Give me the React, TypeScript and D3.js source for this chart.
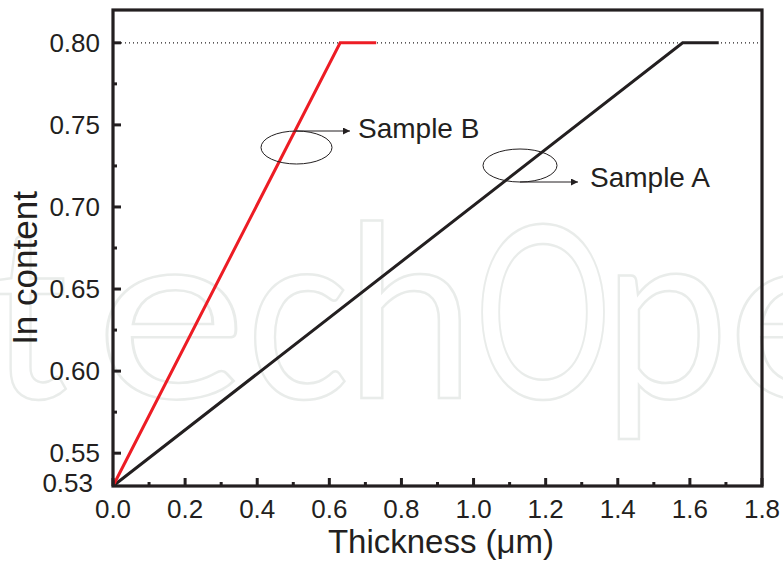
import React from "react";
import * as d3 from "d3";

const sampleA = [
  { x: 0, y: 0.53 },
  { x: 1.58, y: 0.8 },
  { x: 1.68, y: 0.8 },
];
const sampleB = [
  { x: 0, y: 0.53 },
  { x: 0.63, y: 0.8 },
  { x: 0.73, y: 0.8 },
];
const xTicks = [0, 0.2, 0.4, 0.6, 0.8, 1.0, 1.2, 1.4, 1.6, 1.8];
const xMinor = [0.1, 0.3, 0.5, 0.7, 0.9, 1.1, 1.3, 1.5, 1.7];
const yTicks = [0.55, 0.6, 0.65, 0.7, 0.75, 0.8];
const yMinor = [0.575, 0.625, 0.675, 0.725, 0.775];
const refLine = 0.8;
// visible watermark letters: character, left edge, width (px)
const wmLetters: [string, number, number][] = [
  ["t", -12, 80],
  ["e", 95, 152],
  ["c", 246, 104],
  ["h", 345, 130],
  ["O", 474, 138],
  ["p", 603, 126],
  ["e", 727, 140],
];

const W = 783;
const H = 566;
const L = 113, R = 762, T = 10, B = 486;

export default function App() {
  const x = d3.scaleLinear().domain([0, 1.8]).range([L, R]);
  const y = d3.scaleLinear().domain([0.53, 0.82]).range([B, T]);
  const line = d3
    .line<{ x: number; y: number }>()
    .x((d) => x(d.x))
    .y((d) => y(d.y));
  const font = "'Liberation Sans', Arial, sans-serif";
  return (
    <svg
      width={W}
      height={H}
      style={{ position: "absolute", left: 0, top: 0, background: "#fff" }}
    >
      <defs>
        <marker id="arr" viewBox="0 0 10 10" refX="10" refY="5" markerWidth="9" markerHeight="7" orient="auto" markerUnits="userSpaceOnUse">
          <path d="M0,0 L10,5 L0,10 z" fill="#231f20" />
        </marker>
      </defs>
      <g
        fontFamily="Lato, 'Open Sans', sans-serif"
        fontSize={240}
        fill="none"
        stroke="#e9ecea"
        strokeWidth={2.5}
      >
        {wmLetters.map(([ch, lx, w], i) => (
          <text key={"wm" + i} x={lx} y={398} textLength={w} lengthAdjust="spacingAndGlyphs">
            {ch}
          </text>
        ))}
      </g>
      <line
        x1={L}
        x2={R}
        y1={y(refLine)}
        y2={y(refLine)}
        stroke="#231f20"
        strokeWidth={1.2}
        strokeDasharray="1,3"
      />
      <path d={line(sampleA) || ""} fill="none" stroke="#231f20" strokeWidth={3} />
      <path d={line(sampleB) || ""} fill="none" stroke="#ed1c24" strokeWidth={3} />
      {/* annotations */}
      <ellipse cx={296.5} cy={147.5} rx={35.5} ry={16.5} fill="none" stroke="#231f20" strokeWidth={1} />
      <line x1={296} x2={350} y1={131} y2={131} stroke="#231f20" strokeWidth={1} markerEnd="url(#arr)" />
      <text x={358} y={138} fontFamily={font} fontSize={28} fill="#231f20">Sample B</text>
      <ellipse cx={520} cy={165.5} rx={37} ry={16.5} fill="none" stroke="#231f20" strokeWidth={1} />
      <line x1={520} x2={578} y1={182} y2={182} stroke="#231f20" strokeWidth={1} markerEnd="url(#arr)" />
      <text x={590} y={187} fontFamily={font} fontSize={28} fill="#231f20">Sample A</text>
      {/* ticks */}
      {xTicks.map((t) => (
        <line key={"xt" + t} x1={x(t)} x2={x(t)} y1={B} y2={B - 8} stroke="#231f20" strokeWidth={3} />
      ))}
      {xMinor.map((t) => (
        <line key={"xm" + t} x1={x(t)} x2={x(t)} y1={B} y2={B - 4} stroke="#231f20" strokeWidth={3} />
      ))}
      {yTicks.map((t) => (
        <line key={"yt" + t} x1={L} x2={L + 8} y1={y(t)} y2={y(t)} stroke="#231f20" strokeWidth={3} />
      ))}
      {yMinor.map((t) => (
        <line key={"ym" + t} x1={L} x2={L + 4} y1={y(t)} y2={y(t)} stroke="#231f20" strokeWidth={3} />
      ))}
      <rect x={L} y={T} width={R - L} height={B - T} fill="none" stroke="#231f20" strokeWidth={3.2} />
      {xTicks.map((t) => (
        <text key={"xl" + t} x={x(t)} y={518} textAnchor="middle" fontFamily={font} fontSize={26} fill="#231f20">
          {t.toFixed(1)}
        </text>
      ))}
      {yTicks.map((t) => (
        <text key={"yl" + t} x={100} y={y(t) + 9} textAnchor="end" fontFamily={font} fontSize={26} fill="#231f20">
          {t.toFixed(2)}
        </text>
      ))}
      <text x={93} y={492} textAnchor="end" fontFamily={font} fontSize={26} fill="#231f20">0.53</text>
      <text x={441} y={553} textAnchor="middle" fontFamily={font} fontSize={33} fill="#231f20">
        Thickness (μm)
      </text>
      <text
        transform="translate(37,268) rotate(-90)"
        textAnchor="middle"
        fontFamily={font}
        fontSize={35}
        fill="#231f20"
      >
        In content
      </text>
    </svg>
  );
}
